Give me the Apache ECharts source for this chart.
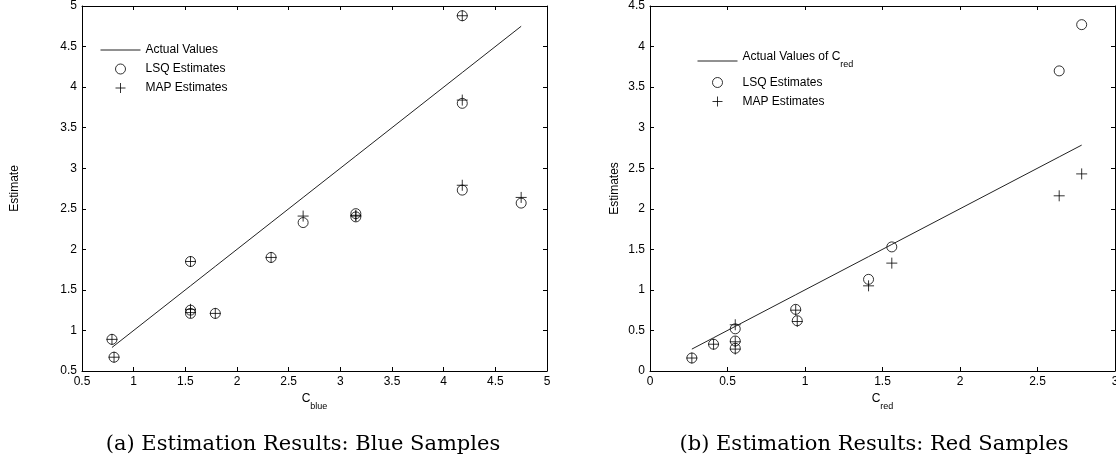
<!DOCTYPE html>
<html>
<head>
<meta charset="utf-8">
<script src="https://cdn.jsdelivr.net/npm/echarts@6/dist/echarts.min.js"></script>
<style>
  html, body { margin: 0; padding: 0; background: #fff; }
  #chart { width: 1116px; height: 465px; }
</style>
</head>
<body>
<div id="chart"></div>
<script>
// Blue samples: actual concentration and the two estimators
const blueActual = [0.79, 0.81, 1.55, 1.55, 1.55, 1.79, 2.33, 2.64, 3.15, 3.15, 4.18, 4.18, 4.18, 4.75];
const blueLSQ    = [0.89, 0.67, 1.85, 1.25, 1.21, 1.21, 1.90, 2.33, 2.44, 2.40, 4.88, 3.80, 2.73, 2.57];
const blueMAP    = [0.89, 0.67, 1.85, 1.26, 1.22, 1.21, 1.90, 2.41, 2.42, 2.41, 4.88, 3.84, 2.79, 2.64];

// Red samples
const redActual = [0.27, 0.41, 0.55, 0.55, 0.55, 0.94, 0.95, 1.41, 1.56, 2.64, 2.785];
const redLSQ    = [0.16, 0.33, 0.52, 0.37, 0.28, 0.76, 0.62, 1.13, 1.53, 3.70, 4.27];
const redMAP    = [0.16, 0.33, 0.57, 0.36, 0.27, 0.75, 0.61, 1.05, 1.33, 2.16, 2.43];

// Axis ranges [min, max, step]
const blueXRange = [0.5, 5, 0.5];
const blueYRange = [0.5, 5, 0.5];
const redXRange  = [0, 3, 0.5];
const redYRange  = [0, 4.5, 0.5];

// Text
const captions = ['(a) Estimation Results: Blue Samples', '(b) Estimation Results: Red Samples'];
const lineNameBlue = 'Actual Values';
const lineNameRed = 'Actual Values of Cred';
const lsqName = 'LSQ Estimates';
const mapName = 'MAP Estimates';

const SANS = '"Liberation Sans", Arial, Helvetica, sans-serif';
const PLUS = 'path://M0,5L10,5M5,0L5,10';

const pairs = (xs, ys) => xs.map((x, i) => [x, ys[i]]);
const diagonal = xs => [...new Set(xs)].sort((a, b) => a - b).map(v => [v, v]);

function axis(range, gridIndex, position, opts) {
  return Object.assign({
    type: 'value', gridIndex, position,
    min: range[0], max: range[1], interval: range[2],
    axisLine: { show: true, onZero: false, lineStyle: { color: '#000', width: 1 } },
    axisTick: { show: true, inside: true, length: 4, lineStyle: { color: '#000', width: 1 } },
    splitLine: { show: false },
    axisLabel: { show: true, color: '#000', fontSize: 12, fontFamily: SANS, margin: 5 }
  }, opts || {});
}
const hidden = { axisLabel: { show: false } };

const subRich = {
  t: { fontSize: 12, fontFamily: SANS, color: '#000', padding: [0, 0, 8, 0], verticalAlign: 'middle' },
  s: { fontSize: 9, fontFamily: SANS, color: '#000', padding: [8, 0, 0, 0], verticalAlign: 'middle' }
};

const lineStyle = { color: '#222', width: 1 };
const circleStyle = { color: 'transparent', borderColor: '#000', borderWidth: 1 };
const noMarker = { color: 'transparent', borderColor: 'transparent', borderWidth: 0, opacity: 0 };

function estimateSeries(name, xi, data, isPlus) {
  return {
    name, type: 'scatter', xAxisIndex: xi, yAxisIndex: xi,
    symbol: isPlus ? PLUS : 'circle', symbolSize: isPlus ? 11 : 10,
    itemStyle: circleStyle, data, silent: true
  };
}

function lineSeries(name, xi, xs) {
  return {
    name, type: 'line', xAxisIndex: xi, yAxisIndex: xi, symbol: 'none',
    color: '#222', lineStyle, data: diagonal(xs), silent: true
  };
}

const legendCommon = {
  orient: 'vertical', itemWidth: 40, itemHeight: 10, itemGap: 7,
  selectedMode: false, padding: 0,
  itemStyle: { borderWidth: 1 },
  lineStyle: { width: 1, color: '#222' },
  textStyle: { fontSize: 12, fontFamily: SANS, color: '#000', rich: subRich }
};

const option = {
  animation: false,
  backgroundColor: '#fff',
  grid: [
    { left: 82, top: 6, width: 465, height: 365, outerBoundsMode: 'none' },
    { left: 650, top: 6, width: 465, height: 365, outerBoundsMode: 'none' }
  ],
  xAxis: [
    axis(blueXRange, 0, 'bottom', {
      name: '{t|C}{s|blue}', nameLocation: 'middle', nameGap: 21,
      nameTextStyle: { rich: subRich }
    }),
    axis(blueXRange, 0, 'top', hidden),
    axis(redXRange, 1, 'bottom', {
      name: '{t|C}{s|red}', nameLocation: 'middle', nameGap: 21,
      nameTextStyle: { rich: subRich }
    }),
    axis(redXRange, 1, 'top', hidden)
  ],
  yAxis: [
    axis(blueYRange, 0, 'left', {
      name: 'Estimate', nameLocation: 'middle', nameGap: 61,
      nameTextStyle: { fontSize: 12, fontFamily: SANS, color: '#000' }
    }),
    axis(blueYRange, 0, 'right', hidden),
    axis(redYRange, 1, 'left', {
      name: 'Estimates', nameLocation: 'middle', nameGap: 29,
      nameTextStyle: { fontSize: 12, fontFamily: SANS, color: '#000' }
    }),
    axis(redYRange, 1, 'right', hidden)
  ],
  legend: [
    Object.assign({}, legendCommon, {
      left: 100, top: 44,
      data: [
        { name: lineNameBlue, itemStyle: noMarker },
        { name: lsqName, icon: 'circle', itemStyle: circleStyle },
        { name: mapName, icon: PLUS, itemStyle: circleStyle }
      ]
    }),
    Object.assign({}, legendCommon, {
      left: 697, top: 51,
      formatter: n => n === lineNameRed ? '{t|Actual Values of C}{s|red}' : n,
      data: [
        { name: lineNameRed, itemStyle: noMarker },
        { name: lsqName, icon: 'circle', itemStyle: circleStyle },
        { name: mapName, icon: PLUS, itemStyle: circleStyle }
      ]
    })
  ],
  series: [
    lineSeries(lineNameBlue, 0, blueActual),
    estimateSeries(lsqName, 0, pairs(blueActual, blueLSQ), false),
    estimateSeries(mapName, 0, pairs(blueActual, blueMAP), true),
    lineSeries(lineNameRed, 2, redActual),
    estimateSeries(lsqName, 2, pairs(redActual, redLSQ), false),
    estimateSeries(mapName, 2, pairs(redActual, redMAP), true)
  ],
  graphic: [
    { type: 'text', x: 303, y: 445, silent: true,
      style: { text: captions[0], align: 'center', verticalAlign: 'middle',
               font: '21px "DejaVu Serif", serif', fill: '#000' } },
    { type: 'text', x: 874, y: 445, silent: true,
      style: { text: captions[1], align: 'center', verticalAlign: 'middle',
               font: '21px "DejaVu Serif", serif', fill: '#000' } }
  ]
};

const chart = echarts.init(document.getElementById('chart'), null, { renderer: 'canvas' });
chart.setOption(option);
</script>
</body>
</html>
